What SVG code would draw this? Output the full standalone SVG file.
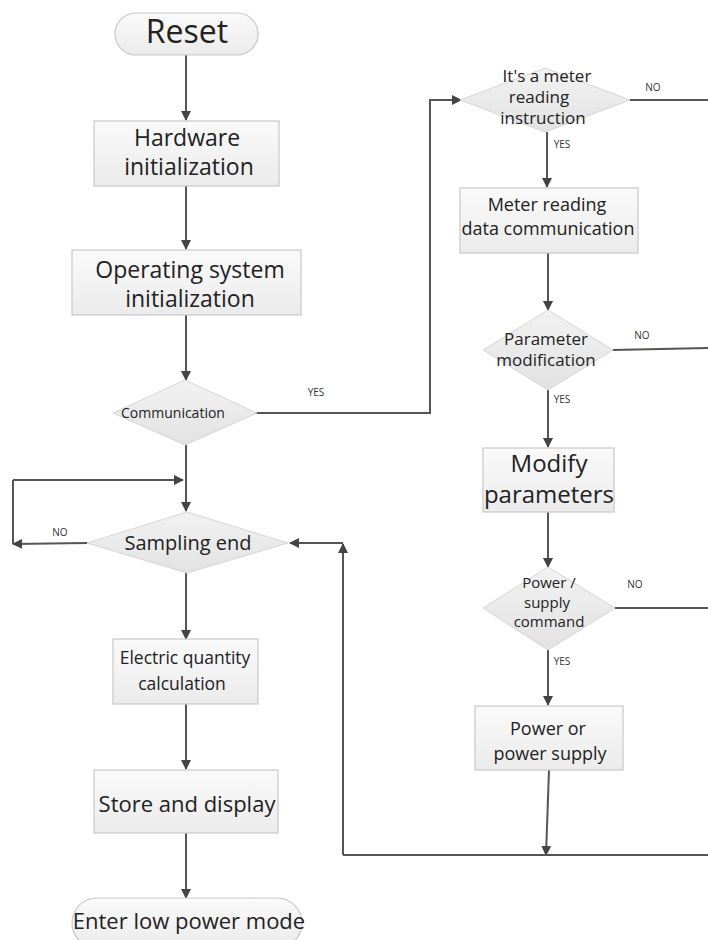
<svg xmlns="http://www.w3.org/2000/svg" width="708" height="940" viewBox="0 0 708 940">
<defs>
<linearGradient id="gBox" x1="0" y1="0" x2="0" y2="1">
<stop offset="0" stop-color="#fafafa"/>
<stop offset="1" stop-color="#ebebeb"/>
</linearGradient>
<linearGradient id="gDia" x1="0" y1="0" x2="0" y2="1">
<stop offset="0" stop-color="#f2f2f2"/>
<stop offset="1" stop-color="#e2e2e2"/>
</linearGradient>
<marker id="arr" viewBox="0 0 10 10" refX="9" refY="5" markerWidth="10" markerHeight="10" markerUnits="userSpaceOnUse" orient="auto">
<path d="M0,0 L10,5 L0,10 z" fill="#444"/>
</marker>
</defs>
<style>
.box{fill:url(#gBox);stroke:#c8c8c8;stroke-width:1.2}
.dia{fill:url(#gDia);stroke:#d6d6d6;stroke-width:1}
.t{font-family:"Open Sans","Noto Sans",sans-serif;fill:#222;text-anchor:middle}
.lbl{font-family:"Open Sans","Noto Sans",sans-serif;fill:#333;font-size:10px;text-anchor:middle}
.c{fill:none;stroke:#555;stroke-width:2}
.ca{fill:none;stroke:#555;stroke-width:2;marker-end:url(#arr)}
</style>
<rect width="708" height="940" fill="#ffffff"/>

<g id="connectors">
<line class="ca" x1="186" y1="55" x2="186" y2="120"/>
<line class="ca" x1="186" y1="186" x2="186" y2="249"/>
<line class="ca" x1="186" y1="315" x2="186" y2="380"/>
<line class="ca" x1="186" y1="445" x2="186" y2="511"/>
<polyline class="ca" points="228,413 430,413 430,100 461,100"/>
<polyline class="ca" points="13,480 183,480"/>
<polyline class="ca" points="87,543 13,544"/>
<line class="c" x1="13" y1="480" x2="13" y2="544"/>
<line class="ca" x1="186" y1="573" x2="186" y2="639"/>
<line class="ca" x1="186" y1="704" x2="186" y2="769"/>
<line class="ca" x1="186" y1="833" x2="186" y2="898"/>
<line class="ca" x1="547" y1="132" x2="547" y2="187"/>
<line class="ca" x1="548" y1="253" x2="548" y2="310"/>
<line class="ca" x1="548" y1="390" x2="548" y2="447"/>
<line class="ca" x1="548" y1="512" x2="548" y2="567"/>
<line class="ca" x1="548" y1="650" x2="548" y2="705"/>
<line class="ca" x1="549" y1="770" x2="546" y2="855"/>
<line class="c" x1="630" y1="100" x2="708" y2="100"/>
<line class="c" x1="613" y1="350" x2="708" y2="348"/>
<line class="c" x1="615" y1="608" x2="708" y2="608"/>
<line class="c" x1="343" y1="855" x2="708" y2="855"/>
<line class="ca" x1="343" y1="855" x2="343" y2="544"/>
<line class="ca" x1="343" y1="543" x2="290" y2="543"/>
<text class="lbl" x="316" y="396">YES</text>
<text class="lbl" x="60" y="536">NO</text>
<text class="lbl" x="653" y="91">NO</text>
<text class="lbl" x="562" y="148">YES</text>
<text class="lbl" x="642" y="339">NO</text>
<text class="lbl" x="562" y="403">YES</text>
<text class="lbl" x="635" y="588">NO</text>
<text class="lbl" x="562" y="665">YES</text>
</g>

<g id="reset">
<rect class="box" x="115" y="13" width="143" height="42" rx="21" ry="21"/>
<text class="t" x="187" y="43" font-size="32">Reset</text>
</g>
<g id="hw-init">
<rect class="box" x="94" y="121" width="185" height="65"/>
<text class="t" x="187" y="146" font-size="23">Hardware</text>
<text class="t" x="189" y="175" font-size="23">initialization</text>
</g>
<g id="os-init">
<rect class="box" x="72" y="250" width="229" height="65"/>
<text class="t" x="190" y="278" font-size="23">Operating system</text>
<text class="t" x="190" y="307" font-size="23">initialization</text>
</g>
<g id="communication">
<polygon class="dia" points="185,380 257,413 185,445 113,413"/>
<text class="t" x="173" y="418" font-size="14">Communication</text>
</g>
<g id="sampling-end">
<polygon class="dia" points="187,512 288,543 187,573 87,543"/>
<text class="t" x="188" y="550" font-size="20">Sampling end</text>
</g>
<g id="electric-calc">
<rect class="box" x="113" y="639" width="145" height="65"/>
<text class="t" x="185" y="664" font-size="17.5">Electric quantity</text>
<text class="t" x="182" y="690" font-size="17.5">calculation</text>
</g>
<g id="store-display">
<rect class="box" x="94" y="770" width="184" height="63"/>
<text class="t" x="187" y="812" font-size="22">Store and display</text>
</g>
<g id="low-power">
<rect class="box" x="72" y="898" width="230" height="50" rx="25" ry="25"/>
<text class="t" x="189" y="929" font-size="22">Enter low power mode</text>
</g>
<g id="meter-instr">
<polygon class="dia" points="545,68 630,100 545,132 460,100"/>
<text class="t" x="547" y="82" font-size="17">It's a meter</text>
<text class="t" x="539" y="103" font-size="17">reading</text>
<text class="t" x="543" y="124" font-size="17">instruction</text>
</g>
<g id="meter-comm">
<rect class="box" x="460" y="188" width="178" height="65"/>
<text class="t" x="547" y="211" font-size="18">Meter reading</text>
<text class="t" x="548" y="235" font-size="18">data communication</text>
</g>
<g id="param-mod">
<polygon class="dia" points="548,310 613,350 548,390 483,350"/>
<text class="t" x="546" y="345" font-size="17">Parameter</text>
<text class="t" x="546" y="366" font-size="17">modification</text>
</g>
<g id="modify-params">
<rect class="box" x="483" y="448" width="131" height="64"/>
<text class="t" x="549" y="472" font-size="24">Modify</text>
<text class="t" x="549" y="503" font-size="24">parameters</text>
</g>
<g id="power-cmd">
<polygon class="dia" points="548,567 615,608 548,650 483,608"/>
<text class="t" x="549" y="588" font-size="15">Power /</text>
<text class="t" x="547" y="608" font-size="15">supply</text>
<text class="t" x="549" y="627" font-size="15">command</text>
</g>
<g id="power-supply">
<rect class="box" x="475" y="706" width="148" height="64"/>
<text class="t" x="548" y="735" font-size="18">Power or</text>
<text class="t" x="550" y="760" font-size="18">power supply</text>
</g>
</svg>
